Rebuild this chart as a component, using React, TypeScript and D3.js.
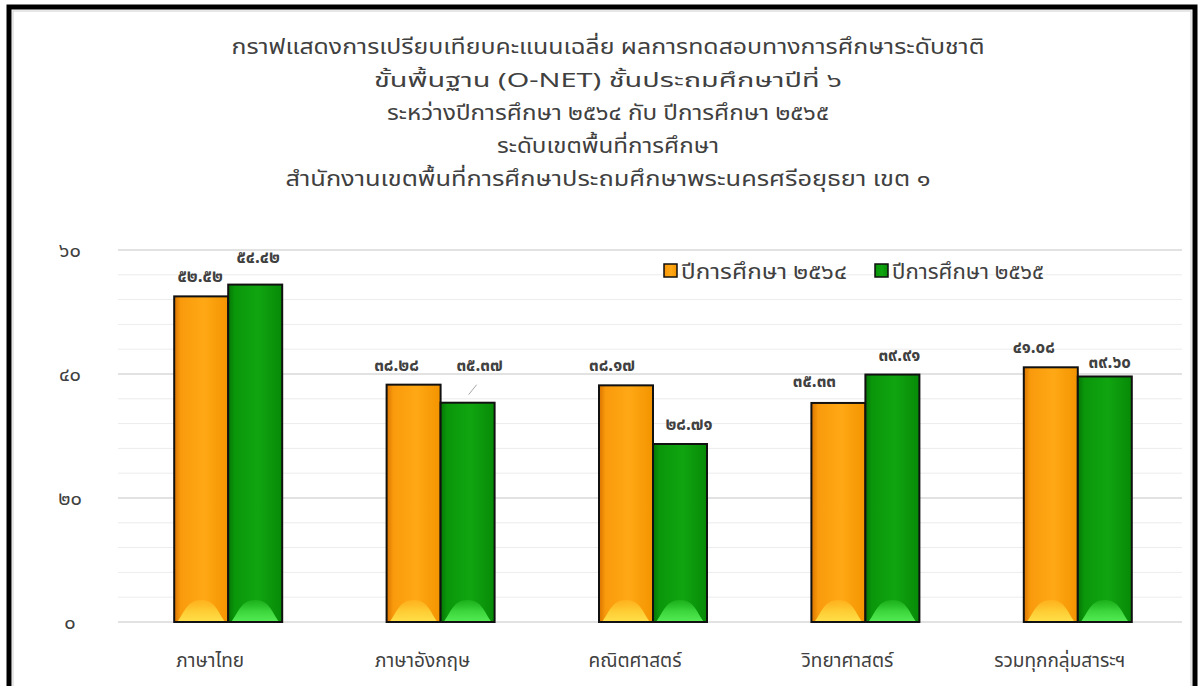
import React from "react";
import * as d3 from "d3";

const categories = ["ภาษาไทย", "ภาษาอังกฤษ", "คณิตศาสตร์", "วิทยาศาสตร์", "รวมทุกกลุ่มสาระฯ"];
const series2564 = [52.52, 38.28, 38.17, 35.33, 41.08];
const series2565 = [54.42, 35.37, 28.71, 39.91, 39.6];
const seriesNames = ["ปีการศึกษา ๒๕๖๔", "ปีการศึกษา ๒๕๖๕"];
const yTicks = [0, 20, 40, 60];
const titleLines = [
  "กราฟแสดงการเปรียบเทียบคะแนนเฉลี่ย ผลการทดสอบทางการศึกษาระดับชาติ",
  "ขั้นพื้นฐาน (O-NET) ชั้นประถมศึกษาปีที่ ๖",
  "ระหว่างปีการศึกษา ๒๕๖๔ กับ ปีการศึกษา ๒๕๖๕",
  "ระดับเขตพื้นที่การศึกษา",
  "สำนักงานเขตพื้นที่การศึกษาประถมศึกษาพระนครศรีอยุธยา เขต ๑",
];
// layout-only constants (not data)
const titleWidths = [753, 468, 442, 222, 645];
const legendWidths = [166, 152];
const labelNudge2564 = [[-1, 0], [-17, 0], [-14, 0], [-24, -2], [-17, 0]];
const labelNudge2565 = [[3, -8], [12, -18], [9, 0], [7, 0], [5, 6]];

const thaiDigits = "๐๑๒๓๔๕๖๗๘๙";
const toThai = (s: string) => s.replace(/[0-9]/g, (d) => thaiDigits[+d]);

const W = 1202;
const H = 686;
const FONT = "Tahoma, 'Noto Sans Thai', 'Leelawadee UI', 'DejaVu Sans', sans-serif";

export default function App() {
  const x = d3.scaleBand<string>().domain(categories).range([122, 1184]).paddingInner(0).paddingOuter(0);
  const y = d3.scaleLinear().domain([0, 60]).range([622, 250]);
  const minor = d3.range(0, 61, 4);
  const barW = 54;

  const bars = [
    { vals: series2564, off: -barW, grad: "gOrange", glow: "glowOrange", nudge: labelNudge2564 },
    { vals: series2565, off: 0, grad: "gGreen", glow: "glowGreen", nudge: labelNudge2565 },
  ];

  const dome = (bx: number, w: number, base: number, hgt: number) => {
    const inset = 3;
    const l = bx + inset;
    const r = bx + w - inset;
    const m = (l + r) / 2;
    return `M${l},${base} C${l + 8},${base - hgt * 0.5} ${m - 14},${base - hgt} ${m},${base - hgt} C${m + 14},${base - hgt} ${r - 8},${base - hgt * 0.5} ${r},${base} Z`;
  };

  return (
    <svg width={W} height={H} style={{ position: "absolute", left: 0, top: 0, background: "#fff" }} fontFamily={FONT}>
      <defs>
        <linearGradient id="gOrange" x1="0" x2="1" y1="0" y2="0">
          <stop offset="0" stopColor="#d97400" />
          <stop offset="0.12" stopColor="#f99a0c" />
          <stop offset="0.55" stopColor="#ffa815" />
          <stop offset="1" stopColor="#f39400" />
        </linearGradient>
        <linearGradient id="gGreen" x1="0" x2="1" y1="0" y2="0">
          <stop offset="0" stopColor="#067506" />
          <stop offset="0.12" stopColor="#0a970a" />
          <stop offset="0.55" stopColor="#10a510" />
          <stop offset="1" stopColor="#078a07" />
        </linearGradient>
        <linearGradient id="glowOrange" x1="0" x2="0" y1="0" y2="1">
          <stop offset="0" stopColor="#ffc830" stopOpacity="0.35" />
          <stop offset="0.5" stopColor="#ffd43a" stopOpacity="0.85" />
          <stop offset="1" stopColor="#ffe04a" stopOpacity="1" />
        </linearGradient>
        <linearGradient id="glowGreen" x1="0" x2="0" y1="0" y2="1">
          <stop offset="0" stopColor="#33cc33" stopOpacity="0.35" />
          <stop offset="0.5" stopColor="#44e044" stopOpacity="0.85" />
          <stop offset="1" stopColor="#55ec55" stopOpacity="1" />
        </linearGradient>
      </defs>
      <rect x={0} y={0} width={W} height={H} fill="#fff" />

      {/* title */}
      {titleLines.map((t, i) => (
        <text
          key={i}
          x={608}
          y={54 + i * 33}
          textAnchor="middle"
          fontSize={i === 1 ? 20 : 21}
          fill="#404040"
          textLength={titleWidths[i]}
          lengthAdjust="spacingAndGlyphs"
        >
          {t}
        </text>
      ))}

      {/* gridlines */}
      {minor.map((v) => (
        <line
          key={v}
          x1={118}
          x2={1182}
          y1={y(v)}
          y2={y(v)}
          stroke={v % 20 === 0 ? "#d9d9d9" : "#ececec"}
          strokeWidth={v % 20 === 0 ? 1.5 : 1}
        />
      ))}

      {/* y tick labels */}
      {yTicks.map((v) => (
        <text key={v} x={70} y={y(v) + 7} textAnchor="middle" fontSize={20} fill="#404040">
          {toThai(String(v))}
        </text>
      ))}

      {/* bars */}
      {categories.map((c, i) => {
        const cx = (x(c) as number) + x.bandwidth() / 2;
        return (
          <g key={c}>
            {bars.map((b, j) => {
              const v = b.vals[i];
              const bx = cx + b.off;
              const top = y(v);
              const h = y(0) - top;
              return (
                <g key={j}>
                  <rect x={bx} y={top} width={barW} height={h} fill={`url(#${b.grad})`} />
                  <path d={dome(bx, barW, y(0), 22)} fill={`url(#${b.glow})`} />
                  <rect x={bx} y={top} width={barW} height={h} fill="none" stroke="#111" strokeWidth={2} />
                </g>
              );
            })}
          </g>
        );
      })}

      {/* leader line for 35.37 */}
      {(() => {
        const c = categories[1];
        const cx = (x(c) as number) + x.bandwidth() / 2;
        return <line x1={cx + 28} y1={y(series2565[1]) - 8} x2={cx + 36} y2={y(series2565[1]) - 18} stroke="#a6a6a6" strokeWidth={1} />;
      })()}

      {/* data labels */}
      {categories.map((c, i) => {
        const cx = (x(c) as number) + x.bandwidth() / 2;
        return bars.map((b, j) => {
          const v = b.vals[i];
          const lx = cx + b.off + barW / 2 + b.nudge[i][0];
          const ly = y(v) - 14 + b.nudge[i][1];
          return (
            <text key={`${i}-${j}`} x={lx} y={ly} textAnchor="middle" fontSize={17} fontWeight="bold" fill="#404040">
              {toThai(v.toFixed(2))}
            </text>
          );
        });
      })}

      {/* category labels */}
      {categories.map((c) => {
        const cx = (x(c) as number) + x.bandwidth() / 2;
        return (
          <text key={c} x={cx - 18} y={667} textAnchor="middle" fontSize={19} fill="#404040">
            {c}
          </text>
        );
      })}

      {/* legend */}
      {seriesNames.map((n, i) => {
        const lx = i === 0 ? 664 : 875;
        return (
          <g key={n}>
            <rect x={lx} y={264} width={13} height={13} fill={`url(#${i === 0 ? "gOrange" : "gGreen"})`} stroke="#111" strokeWidth={1.5} />
            <text x={lx + 17} y={279} fontSize={21} fill="#404040" textLength={legendWidths[i]} lengthAdjust="spacingAndGlyphs">
              {n}
            </text>
          </g>
        );
      })}

      {/* frame */}
      <rect x={9} y={7} width={1186} height={H + 20} fill="none" stroke="#000" strokeWidth={5} />
      <rect x={13} y={11} width={1178} height={H + 20} fill="none" stroke="#d0d0d0" strokeWidth={1} />
    </svg>
  );
}
